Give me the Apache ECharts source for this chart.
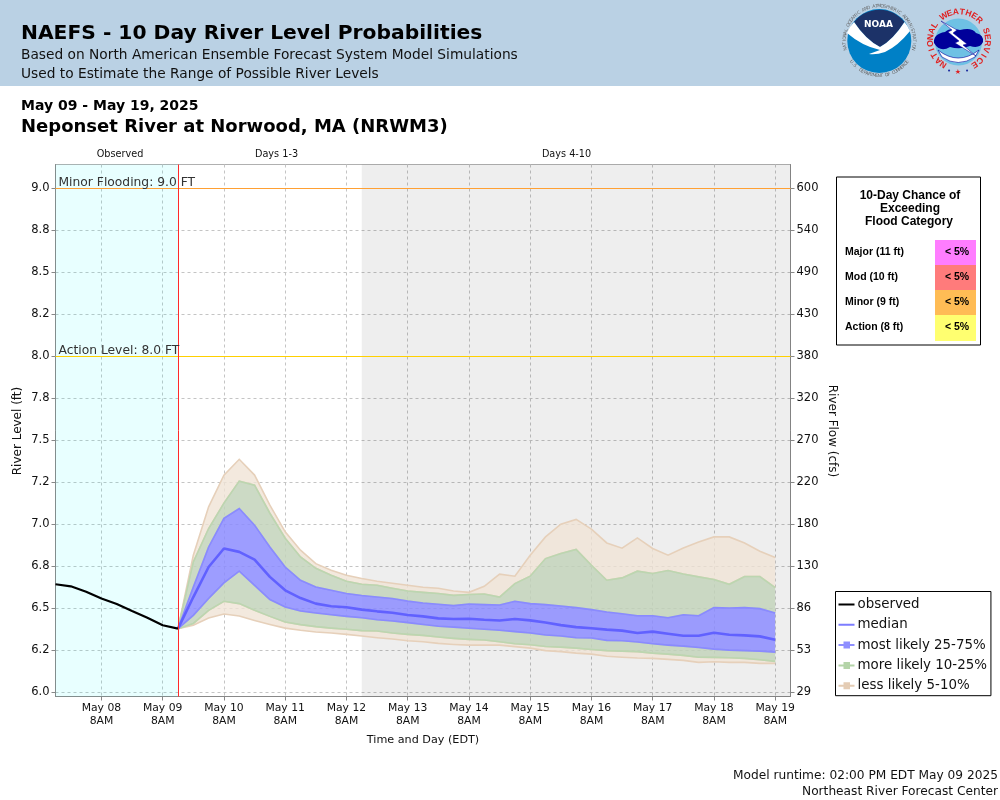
<!DOCTYPE html>
<html>
<head>
<meta charset="utf-8">
<title>NAEFS - Neponset River at Norwood</title>
<style>
  html, body { margin: 0; padding: 0; background: #fff; }
  #main { width: 1000px; height: 800px; }
</style>
<script src="https://cdn.jsdelivr.net/npm/echarts@6/dist/echarts.min.js"></script>
</head>
<body>
<div id="main"></div>
<script>
// observed stage, 6-hourly
const observedTimes = ["2025-05-07 14:00","2025-05-07 20:00","2025-05-08 02:00","2025-05-08 08:00","2025-05-08 14:00","2025-05-08 20:00","2025-05-09 02:00","2025-05-09 08:00","2025-05-09 14:00"];
const observed = [6.644,6.632,6.6,6.559,6.527,6.485,6.445,6.4,6.38];

// forecast percentiles, 6-hourly
const forecastTimes = [
  "2025-05-09 14:00","2025-05-09 20:00","2025-05-10 02:00","2025-05-10 08:00","2025-05-10 14:00","2025-05-10 20:00","2025-05-11 02:00","2025-05-11 08:00",
  "2025-05-11 14:00","2025-05-11 20:00","2025-05-12 02:00","2025-05-12 08:00","2025-05-12 14:00","2025-05-12 20:00","2025-05-13 02:00","2025-05-13 08:00",
  "2025-05-13 14:00","2025-05-13 20:00","2025-05-14 02:00","2025-05-14 08:00","2025-05-14 14:00","2025-05-14 20:00","2025-05-15 02:00","2025-05-15 08:00",
  "2025-05-15 14:00","2025-05-15 20:00","2025-05-16 02:00","2025-05-16 08:00","2025-05-16 14:00","2025-05-16 20:00","2025-05-17 02:00","2025-05-17 08:00",
  "2025-05-17 14:00","2025-05-17 20:00","2025-05-18 02:00","2025-05-18 08:00","2025-05-18 14:00","2025-05-18 20:00","2025-05-19 02:00","2025-05-19 08:00"
];
const p95 = [6.38,6.817,7.105,7.294,7.388,7.294,7.115,6.956,6.847,6.767,6.727,6.698,6.678,6.662,6.65,6.638,6.626,6.62,6.604,6.596,6.632,6.704,6.692,6.817,6.926,7.002,7.03,6.972,6.89,6.859,6.92,6.857,6.817,6.86,6.896,6.926,6.926,6.89,6.841,6.803];
const p90 = [6.38,6.777,6.976,7.127,7.258,7.234,7.067,6.918,6.807,6.739,6.698,6.662,6.644,6.638,6.62,6.604,6.596,6.589,6.578,6.583,6.586,6.568,6.648,6.692,6.797,6.827,6.851,6.757,6.668,6.682,6.722,6.708,6.726,6.705,6.688,6.672,6.644,6.69,6.69,6.624];
const p75 = [6.38,6.628,6.866,7.036,7.095,6.996,6.866,6.747,6.668,6.628,6.608,6.589,6.577,6.568,6.559,6.544,6.533,6.525,6.517,6.527,6.523,6.521,6.543,6.529,6.523,6.515,6.505,6.493,6.479,6.469,6.457,6.457,6.445,6.463,6.457,6.505,6.503,6.505,6.499,6.473];
const p50 = [6.38,6.568,6.747,6.857,6.837,6.791,6.688,6.608,6.562,6.529,6.513,6.507,6.493,6.483,6.475,6.461,6.453,6.441,6.437,6.439,6.433,6.428,6.437,6.429,6.416,6.401,6.389,6.382,6.374,6.368,6.354,6.362,6.35,6.338,6.338,6.356,6.344,6.34,6.334,6.314];
const p25 = [6.38,6.459,6.559,6.652,6.722,6.638,6.553,6.509,6.485,6.473,6.463,6.453,6.445,6.433,6.425,6.416,6.405,6.394,6.389,6.382,6.376,6.37,6.362,6.354,6.342,6.336,6.326,6.324,6.31,6.308,6.3,6.29,6.282,6.276,6.268,6.258,6.252,6.249,6.246,6.24];
const p10 = [6.38,6.411,6.489,6.543,6.529,6.489,6.453,6.419,6.404,6.392,6.383,6.376,6.368,6.366,6.354,6.346,6.34,6.33,6.322,6.316,6.312,6.302,6.29,6.284,6.274,6.27,6.264,6.256,6.249,6.246,6.243,6.234,6.228,6.221,6.21,6.209,6.207,6.203,6.195,6.185];
const p5 = [6.38,6.4,6.443,6.467,6.455,6.429,6.405,6.383,6.37,6.36,6.354,6.346,6.336,6.326,6.318,6.308,6.302,6.292,6.286,6.282,6.282,6.282,6.273,6.264,6.249,6.243,6.234,6.228,6.216,6.21,6.205,6.203,6.197,6.191,6.179,6.183,6.179,6.179,6.173,6.173];

// axis ticks
const stageTicks = [6,6.25,6.5,6.75,7,7.25,7.5,7.75,8,8.25,8.5,8.75,9];
const stageLabels = ["6.0","6.2","6.5","6.8","7.0","7.2","7.5","7.8","8.0","8.2","8.5","8.8","9.0"];
const flowLabels = ["29","53","86","130","180","220","270","320","380","430","490","540","600"];
const timeTicks = ["2025-05-08 08:00","2025-05-09 08:00","2025-05-10 08:00","2025-05-11 08:00","2025-05-12 08:00","2025-05-13 08:00","2025-05-14 08:00","2025-05-15 08:00","2025-05-16 08:00","2025-05-17 08:00","2025-05-18 08:00","2025-05-19 08:00"];
const timeLabels = ["May 08\n8AM","May 09\n8AM","May 10\n8AM","May 11\n8AM","May 12\n8AM","May 13\n8AM","May 14\n8AM","May 15\n8AM","May 16\n8AM","May 17\n8AM","May 18\n8AM","May 19\n8AM"];

// flood category table
const floodCategories = ["Major (11 ft)","Mod (10 ft)","Minor (9 ft)","Action (8 ft)"];
const floodChances = ["< 5%","< 5%","< 5%","< 5%"];
const floodColors = ["#ff7dff","#ff7b7b","#ffbc55","#ffff70"];

const FONT = "DejaVu Sans";
const ARIAL = "Liberation Sans";
const STAGE_MIN = 5.976;
const STAGE_MAX = 9.1429;
const toTime = s => new Date(s.replace(" ", "T") + ":00").getTime();

// band between two percentile lists, drawn through the axis scales
function bandSeries(name, lower, upper, fill, edge) {
  return {
    type: "custom",
    name: name,
    silent: true,
    clip: true,
    data: [0],
    renderItem: function(params, api) {
      const low = forecastTimes.map((t, i) => api.coord([toTime(t), lower[i]]));
      const up = forecastTimes.map((t, i) => api.coord([toTime(t), upper[i]]));
      return {
        type: "group",
        children: [
          { type: "polygon", shape: { points: up.concat(low.slice().reverse()) }, style: { fill: fill } },
          { type: "polyline", shape: { points: up }, style: { fill: null, stroke: edge, lineWidth: 1.6 } },
          { type: "polyline", shape: { points: low }, style: { fill: null, stroke: edge, lineWidth: 1.6 } }
        ]
      };
    }
  };
}

// letters set around a circle, angles clockwise from the top
function arcText(str, cx, cy, r, fromDeg, toDeg, font, color, bottom) {
  const step = (toDeg - fromDeg) / (str.length - 1);
  return str.split("").map((ch, i) => {
    const a = ((fromDeg + step * i) * Math.PI) / 180;
    return {
      type: "text",
      x: cx + r * Math.sin(a),
      y: cy - r * Math.cos(a),
      rotation: bottom ? Math.PI - a : -a,
      style: { text: ch, font: font, fill: color, align: "center", verticalAlign: "middle" }
    };
  });
}

function text(str, x, y, font, color, align, rotation) {
  return { type: "text", x: x, y: y, rotation: rotation || 0, style: { text: str, font: font, fill: color || "#000", align: align || "left", verticalAlign: "middle" } };
}

// logo outlines
const logoPaths = {
  noaaSky: "M854,22 A32,32 0 0 1 904.5,22 Q893,40 880,47 Q866,40 854,22 Z",
  noaaBird: "M847,33 Q850,26 854,22 Q866,40 880,47 Q893,40 904.5,22 Q908,26 910,31 Q898,46 885,52 Q876,55 869,54 L880,50 Q862,46 847,33 Z",
  nwsArc: "M938,50 Q958,66 979,50 L975,57 Q958,68 942,57 Z",
  nwsCloud: "M934,43 Q933,34 945,32 Q950,27 960,30 Q972,27 976,33 Q984,35 983,42 Q980,49 970,46 Q960,50 950,47 Q940,53 934,43 Z",
  nwsBolt: "M941,21 L957,30 L953,33 L967,44 L963,45 L976,56 L955,43 L959,41 L948,32 L952,30 Z"
};
Object.keys(logoPaths).forEach(key => {
  echarts.graphic.registerShape(key, echarts.graphic.extendPath(logoPaths[key]));
});

function logos() {
  const noaa = [
    { type: "circle", shape: { cx: 879.3, cy: 41, r: 32 }, style: { fill: "#0080c6" } },
    { type: "noaaSky", style: { fill: "#1c3268" } },
    { type: "noaaBird", style: { fill: "#fff" } },
    text("NOAA", 878.5, 25, "bold 9px " + FONT, "#fff", "center")
  ]
    .concat(arcText("NATIONAL OCEANIC AND ATMOSPHERIC ADMINISTRATION", 879.3, 41, 34.8, -103, 103, "4.5px " + FONT, "#666"))
    .concat(arcText("U.S. DEPARTMENT OF COMMERCE", 879.3, 41, 34.8, 233, 127, "4.5px " + FONT, "#666", true));
  const nws = [
    { type: "circle", shape: { cx: 958.5, cy: 42, r: 23.5 }, style: { fill: "#6ec1e4" } },
    { type: "nwsArc", style: { fill: "#fff", stroke: "#00009a", lineWidth: 0.6 } },
    { type: "nwsCloud", style: { fill: "#00009a" } },
    { type: "nwsBolt", style: { fill: "#fff", stroke: "#00009a", lineWidth: 0.5 } },
    text("★", 958, 72, "7px " + FONT, "#e02020", "center"),
    text("•", 949, 71, "7px " + FONT, "#2030a0", "center"),
    text("•", 967, 71, "7px " + FONT, "#2030a0", "center")
  ].concat(arcText("NATIONAL WEATHER SERVICE", 959, 40.5, 28.5, -147, 147, "bold 8.5px " + ARIAL, "#e02020"));
  return noaa.concat(nws);
}

function floodTable() {
  const items = [
    { type: "rect", shape: { x: 836.5, y: 177, width: 144, height: 168 }, style: { fill: "#fff", stroke: "#000", lineWidth: 1 } },
    text("10-Day Chance of", 910, 195.5, "bold 12px " + ARIAL, "#000", "center"),
    text("Exceeding", 910, 208.5, "bold 12px " + ARIAL, "#000", "center"),
    text("Flood Category", 909, 221.5, "bold 12px " + ARIAL, "#000", "center")
  ];
  floodCategories.forEach((name, i) => {
    const top = 240 + i * 25;
    items.push({ type: "rect", shape: { x: 935, y: top, width: 41, height: i === 3 ? 26 : 25 }, style: { fill: floodColors[i] } });
    items.push(text(name, 845, top + 12, "bold 10.5px " + ARIAL));
    items.push(text(floodChances[i], 957, top + 12, "bold 10.5px " + ARIAL, "#000", "center"));
  });
  return items;
}

const lineIcon = "path://M0,6H16V8H0z M8,0h.01v.01z M8,14h.01v.01z";
const bandIcon = "path://M0,6H16V8H0z M5,3.5H11.5V10.5H5z M8,0h.01v.01z M8,14h.01v.01z";

const chart = echarts.init(document.getElementById("main"));
chart.setOption({
  animation: false,
  backgroundColor: "#fff",
  textStyle: { fontFamily: FONT },
  grid: { left: 55.5, top: 164.5, width: 735, height: 532, outerBoundsMode: "none", show: true, borderColor: "#b0b0b0", borderWidth: 1, backgroundColor: "transparent" },
  xAxis: {
    type: "value",
    min: toTime("2025-05-07 14:00"),
    max: toTime("2025-05-19 14:00"),
    axisLine: { lineStyle: { color: "#888", width: 1 } },
    axisTick: { length: 4, lineStyle: { color: "#888" }, customValues: timeTicks.map(toTime) },
    axisLabel: {
      customValues: timeTicks.map(toTime),
      fontSize: 10.8,
      lineHeight: 13,
      margin: 5,
      color: "#111",
      fontFamily: FONT,
      hideOverlap: false,
      formatter: v => timeLabels[timeTicks.map(toTime).indexOf(v)]
    },
    splitLine: { show: true, lineStyle: { color: "#c4c4c4", type: [3, 3], width: 1 } }
  },
  yAxis: [
    {
      type: "value",
      min: STAGE_MIN,
      max: STAGE_MAX,
      axisLine: { show: true, onZero: false, lineStyle: { color: "#888" } },
      axisTick: { show: true, length: 4, lineStyle: { color: "#888" }, customValues: stageTicks },
      axisLabel: { customValues: stageTicks, fontSize: 11.5, margin: 6, color: "#111", fontFamily: FONT, formatter: v => stageLabels[stageTicks.indexOf(v)] },
      splitLine: { show: true, lineStyle: { color: "#c4c4c4", type: [3, 3], width: 1 } }
    },
    {
      type: "value",
      position: "right",
      min: STAGE_MIN,
      max: STAGE_MAX,
      axisLine: { show: true, onZero: false, lineStyle: { color: "#888" } },
      axisTick: { show: true, length: 4, lineStyle: { color: "#888" }, customValues: stageTicks },
      axisLabel: { customValues: stageTicks, fontSize: 11.5, margin: 6, color: "#111", fontFamily: FONT, formatter: v => flowLabels[stageTicks.indexOf(v)] },
      splitLine: { show: false }
    }
  ],
  legend: {
    orient: "vertical",
    left: 835.5,
    top: 591.5,
    padding: [6, 4, 3, 3],
    itemWidth: 16,
    itemHeight: 14,
    itemGap: 6.3,
    symbolKeepAspect: false,
    selectedMode: false,
    backgroundColor: "#fff",
    borderColor: "#000",
    borderWidth: 1,
    borderRadius: 0,
    textStyle: { fontSize: 13.4, color: "#111", fontFamily: FONT, padding: [0, 0, 0, -2] },
    data: [
      { name: "observed", icon: lineIcon, itemStyle: { color: "#000" } },
      { name: "median", icon: lineIcon, itemStyle: { color: "#7d7dff" } },
      { name: "most likely 25-75%", icon: bandIcon, itemStyle: { color: "#8f8fff" } },
      { name: "more likely 10-25%", icon: bandIcon, itemStyle: { color: "#b4d4a8" } },
      { name: "less likely 5-10%", icon: bandIcon, itemStyle: { color: "#e4ccb4" } }
    ]
  },
  series: [
    {
      type: "line",
      data: [],
      silent: true,
      markArea: {
        silent: true,
        data: [
          [{ xAxis: toTime("2025-05-07 14:00"), itemStyle: { color: "rgba(0,255,255,0.09)" } }, { xAxis: toTime("2025-05-09 14:00") }],
          [{ xAxis: toTime("2025-05-12 14:00"), itemStyle: { color: "rgba(0,0,0,0.065)" } }, { xAxis: toTime("2025-05-19 14:00") }]
        ]
      },
      markLine: {
        silent: true,
        symbol: "none",
        data: [
          { yAxis: 9, lineStyle: { color: "#ffa033", width: 1, type: "solid" }, label: { formatter: "Minor Flooding: 9.0 FT", position: "insideStartTop", distance: [3, 0], fontSize: 12.3, color: "#333", fontFamily: FONT } },
          { yAxis: 8, lineStyle: { color: "#ffd000", width: 1, type: "solid" }, label: { formatter: "Action Level: 8.0 FT", position: "insideStartTop", distance: [3, 0], fontSize: 12.3, color: "#333", fontFamily: FONT } },
          { xAxis: toTime("2025-05-09 14:00"), lineStyle: { color: "#ff2a2a", width: 1, type: "solid" }, label: { show: false } }
        ]
      }
    },
    bandSeries("less likely 5-10%", p90, p95, "rgba(240,228,214,0.8)", "#e6d0ba"),
    bandSeries("less likely 5-10%", p5, p10, "rgba(240,228,214,0.8)", "#e6d0ba"),
    bandSeries("more likely 10-25%", p75, p90, "rgba(195,212,187,0.85)", "#bcd6b0"),
    bandSeries("more likely 10-25%", p10, p25, "rgba(195,212,187,0.85)", "#bcd6b0"),
    bandSeries("most likely 25-75%", p25, p75, "rgba(140,140,255,0.85)", "#8a8aff"),
    {
      type: "line",
      name: "median",
      data: forecastTimes.map((t, i) => [toTime(t), p50[i]]),
      symbol: "none",
      silent: true,
      lineStyle: { color: "#6161ff", width: 2.6 }
    },
    {
      type: "line",
      name: "observed",
      data: observedTimes.map((t, i) => [toTime(t), observed[i]]),
      symbol: "none",
      silent: true,
      lineStyle: { color: "#000", width: 2.2 }
    }
  ],
  graphic: [
    { type: "rect", shape: { x: 0, y: 0, width: 1000, height: 86 }, style: { fill: "#bad1e4" } },
    text("NAEFS - 10 Day River Level Probabilities", 21, 34, "bold 20.25px " + FONT),
    text("Based on North American Ensemble Forecast System Model Simulations", 21, 55, "13.75px " + FONT, "#111"),
    text("Used to Estimate the Range of Possible River Levels", 21, 74, "13.75px " + FONT, "#111"),
    text("May 09 - May 19, 2025", 21, 106, "bold 14px " + FONT),
    text("Neponset River at Norwood, MA (NRWM3)", 21, 127, "bold 18px " + FONT),
    text("Observed", 120, 154.5, "9.7px " + FONT, "#111", "center"),
    text("Days 1-3", 276.5, 154.5, "9.7px " + FONT, "#111", "center"),
    text("Days 4-10", 566.5, 154.5, "9.7px " + FONT, "#111", "center"),
    text("River Level (ft)", 18, 431, "12px " + FONT, "#111", "center", Math.PI / 2),
    text("River Flow (cfs)", 832, 431, "12px " + FONT, "#111", "center", -Math.PI / 2),
    text("Time and Day (EDT)", 423, 740, "11.2px " + FONT, "#111", "center"),
    text("Model runtime: 02:00 PM EDT May 09 2025", 998, 776, "12.2px " + FONT, "#111", "right"),
    text("Northeast River Forecast Center", 998, 792, "12.2px " + FONT, "#111", "right")
  ]
    .concat(logos())
    .concat(floodTable())
});
</script>
</body>
</html>
